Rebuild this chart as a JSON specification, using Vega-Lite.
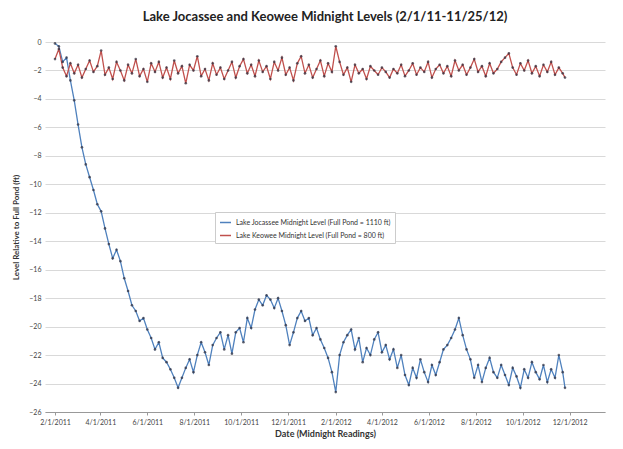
{
  "$schema": "https://vega.github.io/schema/vega-lite/v6.json",
  "width": 560,
  "height": 370,
  "autosize": "none",
  "padding": {"left": 45, "top": 42, "right": 18, "bottom": 37},
  "background": "white",
  "title": {"text": "Lake Jocassee and Keowee Midnight Levels (2/1/11-11/25/12)", "font": "Lato", "fontSize": 13, "fontWeight": "bold", "color": "#222", "offset": 14, "anchor": "middle"},
  "config": {"view": {"stroke": null}, "font": "Lato"},
  "data": {"values": [
    {"d":"2011-02-01","J":-0.1,"K":-1.2},{"d":"2011-02-06","J":-0.3,"K":-0.5},{"d":"2011-02-11","J":-1.4,"K":-1.8},{"d":"2011-02-16","J":-1.1,"K":-2.4},
    {"d":"2011-02-21","J":-2.7,"K":-1.5},{"d":"2011-02-26","J":-4.1,"K":-2.2},{"d":"2011-03-03","J":-5.8,"K":-1.6},{"d":"2011-03-08","J":-7.4,"K":-2.5},
    {"d":"2011-03-13","J":-8.6,"K":-1.9},{"d":"2011-03-18","J":-9.5,"K":-1.3},{"d":"2011-03-23","J":-10.4,"K":-2.1},{"d":"2011-03-28","J":-11.4,"K":-1.7},
    {"d":"2011-04-02","J":-11.9,"K":-0.6},{"d":"2011-04-07","J":-13.1,"K":-2.3},{"d":"2011-04-12","J":-14.2,"K":-1.8},{"d":"2011-04-17","J":-15.2,"K":-2.6},
    {"d":"2011-04-22","J":-14.6,"K":-1.4},{"d":"2011-04-27","J":-15.4,"K":-2.0},{"d":"2011-05-02","J":-16.6,"K":-2.7},{"d":"2011-05-07","J":-17.5,"K":-1.6},
    {"d":"2011-05-12","J":-18.5,"K":-2.2},{"d":"2011-05-17","J":-18.9,"K":-1.2},{"d":"2011-05-22","J":-19.6,"K":-2.4},{"d":"2011-05-27","J":-19.4,"K":-1.9},
    {"d":"2011-06-01","J":-20.2,"K":-2.8},{"d":"2011-06-06","J":-20.8,"K":-1.5},{"d":"2011-06-11","J":-21.6,"K":-2.1},{"d":"2011-06-16","J":-21.1,"K":-1.4},
    {"d":"2011-06-21","J":-22.2,"K":-2.5},{"d":"2011-06-26","J":-22.5,"K":-1.8},{"d":"2011-07-01","J":-23.0,"K":-2.6},{"d":"2011-07-06","J":-23.6,"K":-1.3},
    {"d":"2011-07-11","J":-24.3,"K":-2.2},{"d":"2011-07-16","J":-23.6,"K":-1.7},{"d":"2011-07-21","J":-22.9,"K":-2.9},{"d":"2011-07-26","J":-22.3,"K":-1.6},
    {"d":"2011-07-31","J":-23.2,"K":-2.0},{"d":"2011-08-05","J":-22.0,"K":-1.0},{"d":"2011-08-10","J":-21.1,"K":-2.4},{"d":"2011-08-15","J":-21.8,"K":-1.9},
    {"d":"2011-08-20","J":-22.7,"K":-2.7},{"d":"2011-08-25","J":-21.3,"K":-1.5},{"d":"2011-08-30","J":-20.8,"K":-2.3},{"d":"2011-09-04","J":-20.4,"K":-1.8},
    {"d":"2011-09-09","J":-21.6,"K":-2.6},{"d":"2011-09-14","J":-20.6,"K":-2.0},{"d":"2011-09-19","J":-21.9,"K":-1.4},{"d":"2011-09-24","J":-20.4,"K":-2.5},
    {"d":"2011-09-29","J":-20.1,"K":-1.7},{"d":"2011-10-04","J":-21.1,"K":-1.2},{"d":"2011-10-09","J":-19.4,"K":-2.2},{"d":"2011-10-14","J":-20.1,"K":-1.6},
    {"d":"2011-10-19","J":-18.8,"K":-2.4},{"d":"2011-10-24","J":-18.1,"K":-1.3},{"d":"2011-10-29","J":-18.5,"K":-2.1},{"d":"2011-11-03","J":-17.8,"K":-1.7},
    {"d":"2011-11-08","J":-18.1,"K":-2.6},{"d":"2011-11-13","J":-18.7,"K":-1.4},{"d":"2011-11-18","J":-18.0,"K":-2.0},{"d":"2011-11-23","J":-18.9,"K":-1.1},
    {"d":"2011-11-28","J":-19.9,"K":-2.3},{"d":"2011-12-03","J":-21.3,"K":-1.8},{"d":"2011-12-08","J":-20.4,"K":-2.7},{"d":"2011-12-13","J":-19.4,"K":-1.5},
    {"d":"2011-12-18","J":-18.9,"K":-1.0},{"d":"2011-12-23","J":-19.6,"K":-2.2},{"d":"2011-12-28","J":-19.4,"K":-1.6},{"d":"2012-01-02","J":-20.6,"K":-2.5},
    {"d":"2012-01-07","J":-20.1,"K":-1.9},{"d":"2012-01-12","J":-20.9,"K":-1.3},{"d":"2012-01-17","J":-21.5,"K":-2.4},{"d":"2012-01-22","J":-22.2,"K":-1.5},
    {"d":"2012-01-27","J":-23.2,"K":-2.1},{"d":"2012-02-01","J":-24.6,"K":-0.3},{"d":"2012-02-06","J":-22.0,"K":-1.4},{"d":"2012-02-11","J":-21.1,"K":-2.3},
    {"d":"2012-02-16","J":-20.6,"K":-1.8},{"d":"2012-02-21","J":-20.2,"K":-2.8},{"d":"2012-02-26","J":-21.6,"K":-1.6},{"d":"2012-03-02","J":-20.8,"K":-2.2},
    {"d":"2012-03-07","J":-22.5,"K":-1.9},{"d":"2012-03-12","J":-21.5,"K":-2.6},{"d":"2012-03-17","J":-22.0,"K":-1.7},{"d":"2012-03-22","J":-20.9,"K":-2.0},
    {"d":"2012-03-27","J":-20.4,"K":-2.3},{"d":"2012-04-01","J":-21.8,"K":-1.8},{"d":"2012-04-06","J":-21.3,"K":-2.1},{"d":"2012-04-11","J":-22.3,"K":-2.5},
    {"d":"2012-04-16","J":-21.6,"K":-1.9},{"d":"2012-04-21","J":-22.9,"K":-2.2},{"d":"2012-04-26","J":-22.0,"K":-1.6},{"d":"2012-05-01","J":-23.4,"K":-2.4},
    {"d":"2012-05-06","J":-24.1,"K":-2.0},{"d":"2012-05-11","J":-22.9,"K":-1.5},{"d":"2012-05-16","J":-23.6,"K":-2.3},{"d":"2012-05-21","J":-22.3,"K":-1.8},
    {"d":"2012-05-26","J":-23.2,"K":-2.1},{"d":"2012-05-31","J":-23.9,"K":-1.4},{"d":"2012-06-05","J":-22.7,"K":-2.5},{"d":"2012-06-10","J":-23.4,"K":-1.9},
    {"d":"2012-06-15","J":-22.5,"K":-1.6},{"d":"2012-06-20","J":-21.6,"K":-2.2},{"d":"2012-06-25","J":-21.3,"K":-1.7},{"d":"2012-06-30","J":-20.8,"K":-2.4},
    {"d":"2012-07-05","J":-20.2,"K":-1.3},{"d":"2012-07-10","J":-19.4,"K":-2.0},{"d":"2012-07-15","J":-20.6,"K":-1.6},{"d":"2012-07-20","J":-21.6,"K":-2.3},
    {"d":"2012-07-25","J":-22.3,"K":-1.8},{"d":"2012-07-30","J":-23.6,"K":-1.2},{"d":"2012-08-04","J":-22.7,"K":-2.1},{"d":"2012-08-09","J":-23.9,"K":-1.7},
    {"d":"2012-08-14","J":-22.9,"K":-2.4},{"d":"2012-08-19","J":-22.2,"K":-1.5},{"d":"2012-08-24","J":-23.2,"K":-2.2},{"d":"2012-08-29","J":-23.6,"K":-1.9},
    {"d":"2012-09-03","J":-22.7,"K":-1.4},{"d":"2012-09-08","J":-23.4,"K":-1.1},{"d":"2012-09-13","J":-24.1,"K":-0.8},{"d":"2012-09-18","J":-22.9,"K":-1.8},
    {"d":"2012-09-23","J":-23.5,"K":-2.3},{"d":"2012-09-28","J":-24.3,"K":-1.5},{"d":"2012-10-03","J":-23.0,"K":-2.0},{"d":"2012-10-08","J":-23.6,"K":-1.3},
    {"d":"2012-10-13","J":-22.5,"K":-2.2},{"d":"2012-10-18","J":-23.2,"K":-1.7},{"d":"2012-10-23","J":-23.7,"K":-2.4},{"d":"2012-10-28","J":-22.7,"K":-1.6},
    {"d":"2012-11-02","J":-23.9,"K":-2.1},{"d":"2012-11-07","J":-23.0,"K":-1.4},{"d":"2012-11-12","J":-23.6,"K":-2.3},{"d":"2012-11-17","J":-22.0,"K":-1.8},
    {"d":"2012-11-22","J":-23.2,"K":-2.2},{"d":"2012-11-25","J":-24.3,"K":-2.5}
  ]},
  "transform": [{"fold": ["J", "K"], "as": ["lake", "level"]}],
  "encoding": {
    "x": {"field": "d", "type": "temporal",
      "scale": {"domain": ["2011-01-19", "2013-01-16"]},
      "axis": {"title": "Date (Midnight Readings)", "titleFont": "Lato", "titleFontSize": 9, "titleFontWeight": "bold", "titleColor": "#333", "titlePadding": 4,
        "format": "%-m/%-d/%Y",
        "values": [
          {"year": 2011, "month": 2, "date": 1}, {"year": 2011, "month": 4, "date": 1}, {"year": 2011, "month": 6, "date": 1},
          {"year": 2011, "month": 8, "date": 1}, {"year": 2011, "month": 10, "date": 1}, {"year": 2011, "month": 12, "date": 1},
          {"year": 2012, "month": 2, "date": 1}, {"year": 2012, "month": 4, "date": 1}, {"year": 2012, "month": 6, "date": 1},
          {"year": 2012, "month": 8, "date": 1}, {"year": 2012, "month": 10, "date": 1}, {"year": 2012, "month": 12, "date": 1}],
        "labelFontSize": 7, "labelColor": "#444", "grid": false,
        "domainColor": "#999", "tickColor": "#999", "tickSize": 3, "labelPadding": 3}},
    "y": {"field": "level", "type": "quantitative",
      "scale": {"domain": [-26, 0], "nice": false},
      "axis": {"title": "Level Relative to Full Pond (ft)", "titleFont": "Lato", "titleFontSize": 8, "titleFontWeight": "bold", "titleColor": "#333", "titlePadding": 8,
        "values": [0,-2,-4,-6,-8,-10,-12,-14,-16,-18,-20,-22,-24,-26], "labelFontSize": 7, "labelColor": "#444",
        "gridColor": "#d9d9d9", "gridWidth": 1, "domain": false, "ticks": false, "labelPadding": 4}}
  },
  "layer": [
    {"mark": {"type": "line", "strokeWidth": 1.3},
     "encoding": {"color": {"field": "lake", "type": "nominal",
        "scale": {"domain": ["J", "K"], "range": ["#4F81BD", "#C0504D"]},
        "legend": {"title": null, "orient": "none", "legendX": 170, "legendY": 170, "direction": "vertical",
          "labelExpr": "datum.value == 'J' ? 'Lake Jocassee Midnight Level (Full Pond = 1110 ft)' : 'Lake Keowee Midnight Level (Full Pond = 800 ft)'",
          "labelFontSize": 7, "labelColor": "#333", "symbolType": "stroke", "symbolSize": 120, "symbolStrokeWidth": 1.5, "rowPadding": 3,
          "padding": 4, "strokeColor": "#ccc", "fillColor": "white"}}}},
    {"mark": {"type": "point", "filled": true, "size": 7, "color": "#2b2b3a", "opacity": 0.7}}
  ]
}
